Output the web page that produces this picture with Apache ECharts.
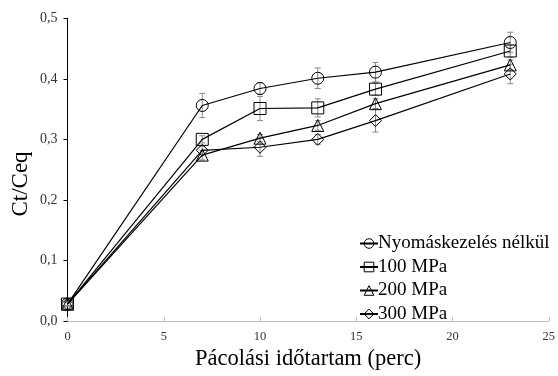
<!DOCTYPE html>
<html><head><meta charset="utf-8">
<script src="https://cdn.jsdelivr.net/npm/echarts@6/dist/echarts.min.js"></script>
<style>html,body{margin:0;padding:0;background:#fff}#c{width:558px;height:376px}</style>
</head><body><div id="c"></div>
<script>
const times = [0, 7, 10, 13, 16, 23];
const seriesNames = ['Nyomáskezelés nélkül', '100 MPa', '200 MPa', '300 MPa'];
const valsNone = [0.028, 0.356, 0.384, 0.401, 0.411, 0.460];
const vals100 = [0.028, 0.300, 0.351, 0.352, 0.383, 0.446];
const vals200 = [0.028, 0.274, 0.302, 0.323, 0.359, 0.423];
const vals300 = [0.028, 0.282, 0.287, 0.300, 0.331, 0.408];
const errNone = [0.003, 0.020, 0.010, 0.017, 0.016, 0.017];
const err100 = [0.003, 0.006, 0.020, 0.015, 0.010, 0.010];
const err200 = [0.003, 0.008, 0.006, 0.008, 0.008, 0.008];
const err300 = [0.003, 0.006, 0.015, 0.008, 0.019, 0.016];
const symbols = ['circle', 'rect', 'triangle', 'diamond'];
const symSizes = [12, 12, 12, 12];
const yTicks = ['0,0', '0,1', '0,2', '0,3', '0,4', '0,5'];
const xTitle = 'Pácolási időtartam (perc)';
const yTitle = 'Ct/Ceq';

const allVals = [valsNone, vals100, vals200, vals300];
const allErr = [errNone, err100, err200, err300];
const font = 'Liberation Serif';

const series = [];
allVals.forEach((vals, i) => {
  const errData = times.map((t, j) => [t, vals[j] - allErr[i][j], vals[j] + allErr[i][j]]);
  series.push({
    type: 'custom', name: seriesNames[i] + '_err', silent: true, z: 1,
    data: errData,
    renderItem: function (params, api) {
      const x = api.value(0);
      const lo = api.coord([x, api.value(1)]);
      const hi = api.coord([x, api.value(2)]);
      const cw = 3;
      const st = { stroke: '#8a8a8a', lineWidth: 1 };
      return { type: 'group', children: [
        { type: 'line', shape: { x1: lo[0], y1: lo[1], x2: hi[0], y2: hi[1] }, style: st },
        { type: 'line', shape: { x1: lo[0] - cw, y1: lo[1], x2: lo[0] + cw, y2: lo[1] }, style: st },
        { type: 'line', shape: { x1: hi[0] - cw, y1: hi[1], x2: hi[0] + cw, y2: hi[1] }, style: st }
      ]};
    }
  });
  series.push({
    type: 'line', name: seriesNames[i], z: 2,
    data: times.map((t, j) => [t, vals[j]]),
    symbol: symbols[i], symbolSize: symSizes[i], showSymbol: true,
    lineStyle: { color: '#000', width: 1.2 },
    itemStyle: { color: 'rgba(255,255,255,0)', borderColor: '#000', borderWidth: 1 },
    emphasis: { disabled: true },
    animation: false
  });
});

const chart = echarts.init(document.getElementById('c'));
chart.setOption({
  animation: false,
  backgroundColor: '#fff',
  grid: { left: 67.5, right: 2.5, top: 18.3, bottom: 49.3, containLabel: false },
  legend: {
    data: seriesNames.map(n => ({ name: n, itemStyle: { color: 'rgba(255,255,255,0)', borderColor: '#000', borderWidth: 1 } })),
    orient: 'vertical', left: 354, top: 229,
    itemWidth: 18, itemHeight: 12, itemGap: 4.5,
    textStyle: { fontFamily: font, fontSize: 19, color: '#000', padding: [0, 0, 0, -5] }
  },
  graphic: [{
    type: 'text', x: 21, y: 184, rotation: Math.PI / 2,
    style: { text: yTitle, fontFamily: font, fontSize: 23, fill: '#000', align: 'center', verticalAlign: 'middle' }
  }],
  xAxis: {
    type: 'value', min: 0, max: 25, interval: 5,
    name: xTitle, nameLocation: 'middle', nameGap: 27,
    nameTextStyle: { fontFamily: font, fontSize: 22.5, color: '#000' },
    axisLine: { lineStyle: { color: '#bdbdbd', width: 1 } },
    axisTick: { show: true, inside: true, length: 4, lineStyle: { color: '#bdbdbd' } },
    axisLabel: { fontFamily: font, fontSize: 12.5, color: '#333', margin: 9 },
    splitLine: { show: false }
  },
  yAxis: {
    type: 'value', min: 0, max: 0.5, interval: 0.1,
    axisLine: { show: true, lineStyle: { color: '#000', width: 1 } },
    axisTick: { show: true, length: 4, lineStyle: { color: '#000' } },
    axisLabel: { fontFamily: font, fontSize: 14, color: '#333', margin: 10,
      formatter: function (v) { return yTicks[Math.round(v * 10)]; } },
    splitLine: { show: false }
  },
  series: series
});
</script></body></html>
